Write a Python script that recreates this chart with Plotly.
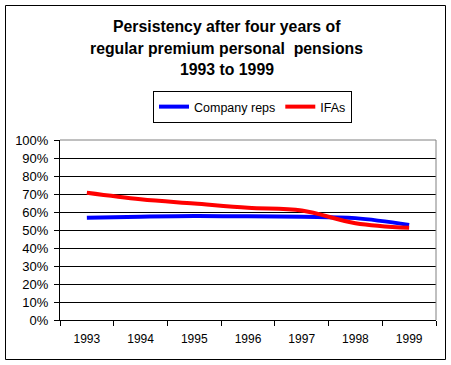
import plotly.graph_objects as go

years = ["1993", "1994", "1995", "1996", "1997", "1998", "1999"]
company_reps = [0.568, 0.574, 0.578, 0.576, 0.573, 0.566, 0.528]
ifas = [0.707, 0.671, 0.647, 0.623, 0.608, 0.538, 0.512]
title_lines = ["Persistency after four years of",
               "regular premium personal  pensions",
               "1993 to 1999"]
y_ticks = [0, 0.1, 0.2, 0.3, 0.4, 0.5, 0.6, 0.7, 0.8, 0.9, 1.0]

W, H = 451, 365
L, R, T, B = 60, 15, 140, 45

def px_x(px):
    return (px - L) / (W - L - R)

def px_y(py):
    return (H - B - py) / (H - T - B)

fig = go.Figure()
fig.add_trace(go.Scatter(x=years, y=company_reps, name="Company reps", mode="lines",
                         line=dict(color="#0000ff", width=4, shape="spline")))
fig.add_trace(go.Scatter(x=years, y=ifas, name="IFAs", mode="lines",
                         line=dict(color="#ff0000", width=4, shape="spline")))

font = "Liberation Sans, Arial, sans-serif"
ann = []
for i, (t, py) in enumerate(zip(title_lines, [26.5, 48, 69.5])):
    ann.append(dict(text="<b>" + t + "</b>", x=px_x(226.5), y=px_y(py), xref="paper", yref="paper",
                    xanchor="center", yanchor="middle", showarrow=False,
                    font=dict(family=font, size=15.8, color="black")))

fig.update_layout(
    width=W, height=H,
    margin=dict(l=L, r=R, t=T, b=B),
    paper_bgcolor="white", plot_bgcolor="white",
    annotations=ann,
    showlegend=True,
    legend=dict(orientation="h", x=px_x(153), y=px_y(91), xanchor="left", yanchor="top",
                bordercolor="black", borderwidth=1, bgcolor="white",
                font=dict(family=font, size=12.5, color="black"),
                itemwidth=30, tracegroupgap=0),
    xaxis=dict(type="category", tickson="boundaries", ticks="outside", ticklen=5,
               tickcolor="black", showline=True, linecolor="black", linewidth=1,
               showgrid=False, range=[-0.5, 6.5], ticklabelstandoff=8,
               tickfont=dict(family=font, size=12, color="black"), fixedrange=True),
    yaxis=dict(range=[0, 1], tickvals=y_ticks, tickformat=".0%", ticks="outside", ticklen=5,
               tickcolor="black", showline=True, linecolor="black", linewidth=1,
               showgrid=True, gridcolor="black", gridwidth=1, zeroline=False,
               ticklabelstandoff=3,
               tickfont=dict(family=font, size=13, color="black"), fixedrange=True),
    shapes=[
        dict(type="line", xref="paper", yref="paper", x0=0, x1=1, y0=1, y1=1,
             line=dict(color="#808080", width=1)),
        dict(type="line", xref="paper", yref="paper", x0=1, x1=1, y0=0, y1=1,
             line=dict(color="#808080", width=1)),
        dict(type="rect", xref="paper", yref="paper", x0=px_x(5.5), x1=px_x(445.5),
             y0=px_y(359.5), y1=px_y(5.5), line=dict(color="black", width=1), layer="below"),
    ],
)

fig.write_html("out.html", config={"displayModeBar": False},
               post_script="document.body.style.margin='0px';")
